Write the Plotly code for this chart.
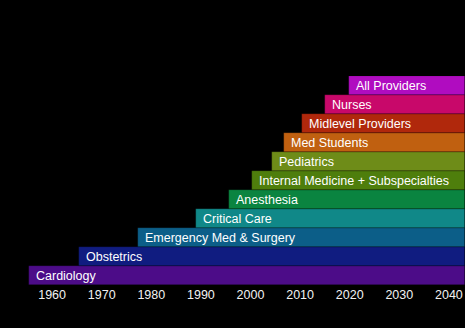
import plotly.graph_objects as go

categories = ["Cardiology", "Obstetrics", "Emergency Med & Surgery", "Critical Care",
              "Anesthesia", "Internal Medicine + Subspecialties", "Pediatrics",
              "Med Students", "Midlevel Providers", "Nurses", "All Providers"]
start_years = [1955.3, 1965.4, 1977.4, 1989.0, 1995.7, 2000.4, 2004.4, 2006.8, 2010.4, 2015.0, 2019.9]
end_year = 2043.3
colors = ["#4c0c88", "#101c80", "#0c5e88", "#108888", "#0a8440", "#4e7e0c",
          "#6e8c18", "#c06010", "#b0280c", "#c8086a", "#b00cc0"]
tick_years = [1960, 1970, 1980, 1990, 2000, 2010, 2020, 2030, 2040]

FONT = "Liberation Sans, Arial, Helvetica, sans-serif"
ypos = list(range(len(categories)))

fig = go.Figure()
fig.add_trace(go.Bar(
    y=ypos,
    x=[end_year - s for s in start_years],
    base=start_years,
    orientation="h",
    marker=dict(color=colors, line=dict(width=0.6, color="rgba(0,0,0,0.45)")),
    width=1.0,
    hoverinfo="skip",
    showlegend=False,
))

for y, s, c in zip(ypos, start_years, categories):
    fig.add_annotation(x=s, y=y, text=c, xanchor="left", yanchor="middle",
                       xshift=5, showarrow=False,
                       font=dict(family=FONT, size=12.5, color="white"))

fig.update_layout(
    width=465, height=328,
    margin=dict(l=0, r=0, t=76, b=43),
    paper_bgcolor="black", plot_bgcolor="black",
    bargap=0,
    xaxis=dict(range=[1949.49, 2043.25], tickvals=tick_years,
               ticktext=[str(t) for t in tick_years],
               showgrid=False, zeroline=False, showline=False,
               ticks="", tickfont=dict(family=FONT, size=12.5, color="#f2f2f2"),
               fixedrange=True),
    yaxis=dict(range=[-0.5, 10.5], showticklabels=False, showgrid=False,
               zeroline=False, showline=False, ticks="", fixedrange=True),
)

fig.write_html("out.html")
